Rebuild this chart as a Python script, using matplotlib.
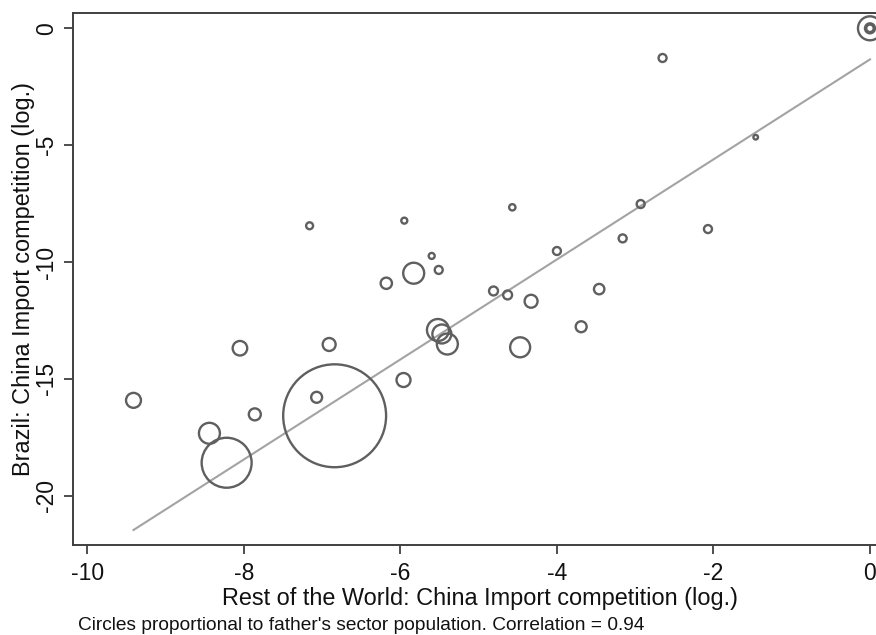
import numpy as np
import matplotlib
matplotlib.use("Agg")
import matplotlib.pyplot as plt

plt.rcParams["font.family"] = ["Liberation Sans", "DejaVu Sans"]
plt.rcParams["axes.unicode_minus"] = False

# Log import competition from China, by father's sector
row_import = [0.0, 0.0, 0.0, -2.65, -1.46, -2.93, -2.07, -3.16, -4.57, -5.95,
              -7.16, -4.00, -5.60, -5.51, -5.83, -6.18, -4.81, -4.63, -4.33,
              -3.46, -3.69, -5.52, -5.47, -5.40, -4.47, -6.91, -8.05, -5.96,
              -9.41, -7.07, -7.86, -8.44, -8.22, -6.84]
brazil_import = [0.0, 0.0, 0.0, -1.27, -4.66, -7.52, -8.59, -8.99, -7.66, -8.23,
                 -8.45, -9.53, -9.74, -10.34, -10.48, -10.91, -11.24, -11.41,
                 -11.68, -11.16, -12.77, -12.91, -13.08, -13.51, -13.65, -13.53,
                 -13.69, -15.05, -15.92, -15.79, -16.52, -17.33, -18.59, -16.58]
# Father's sector population (relative units)
sector_pop = [144, 25, 14, 16, 5.3, 16, 16, 16, 10, 9,
              12, 16, 9, 16, 110, 32, 20, 20, 42,
              27, 30, 121, 90, 110, 100, 42, 53, 49,
              56, 30, 36, 110, 625, 2652]

# Fitted line: Brazil = intercept + slope * RoW
fit_intercept = -1.33
fit_slope = 2.14
correlation = 0.94

x = np.array(row_import)
y = np.array(brazil_import)
w = np.array(sector_pop)

fig = plt.figure(figsize=(8.76, 6.35), dpi=100)
ax = fig.add_axes([73 / 876, 1 - 545 / 635, 1 - 73 / 876, (545 - 13) / 635])

ax.scatter(x, y, s=2.07 * w, facecolors="none", edgecolors="#5f5f5f",
           linewidths=1.7, zorder=3)

xs = np.array([x.min(), x.max()])
ax.plot(xs, fit_intercept + fit_slope * xs, color="#a3a3a3", lw=1.5, zorder=2)

ax.set_xlim(-10.183, 0.077)
ax.set_ylim(-22.11, 0.655)
ax.set_xticks([-10, -8, -6, -4, -2, 0])
ax.set_yticks([0, -5, -10, -15, -20])

for side in ["left", "bottom", "top"]:
    ax.spines[side].set_color("#404040")
    ax.spines[side].set_linewidth(1.4)
ax.spines["right"].set_visible(False)

ax.tick_params(axis="both", direction="out", length=6.5, width=1.3,
               color="#404040", labelsize=16.5, labelcolor="#111111")
ax.tick_params(axis="x", pad=6)
ax.tick_params(axis="y", pad=4)
for lab in ax.get_yticklabels():
    lab.set_rotation(90)
    lab.set_va("center")

ax.set_xlabel("Rest of the World: China Import competition (log.)",
              fontsize=16.9, color="#111111", labelpad=1)
ax.xaxis.label.set_x((480 - 73) / (876 - 73))
ax.set_ylabel("Brazil: China Import competition (log.)",
              fontsize=16.9, color="#111111", labelpad=0)

fig.text(78 / 876, 1 - 625 / 635,
         f"Circles proportional to father's sector population. Correlation = {correlation:.2f}",
         fontsize=13.8, color="#111111", va="center", ha="left")

fig.savefig("out.png", dpi=100)
